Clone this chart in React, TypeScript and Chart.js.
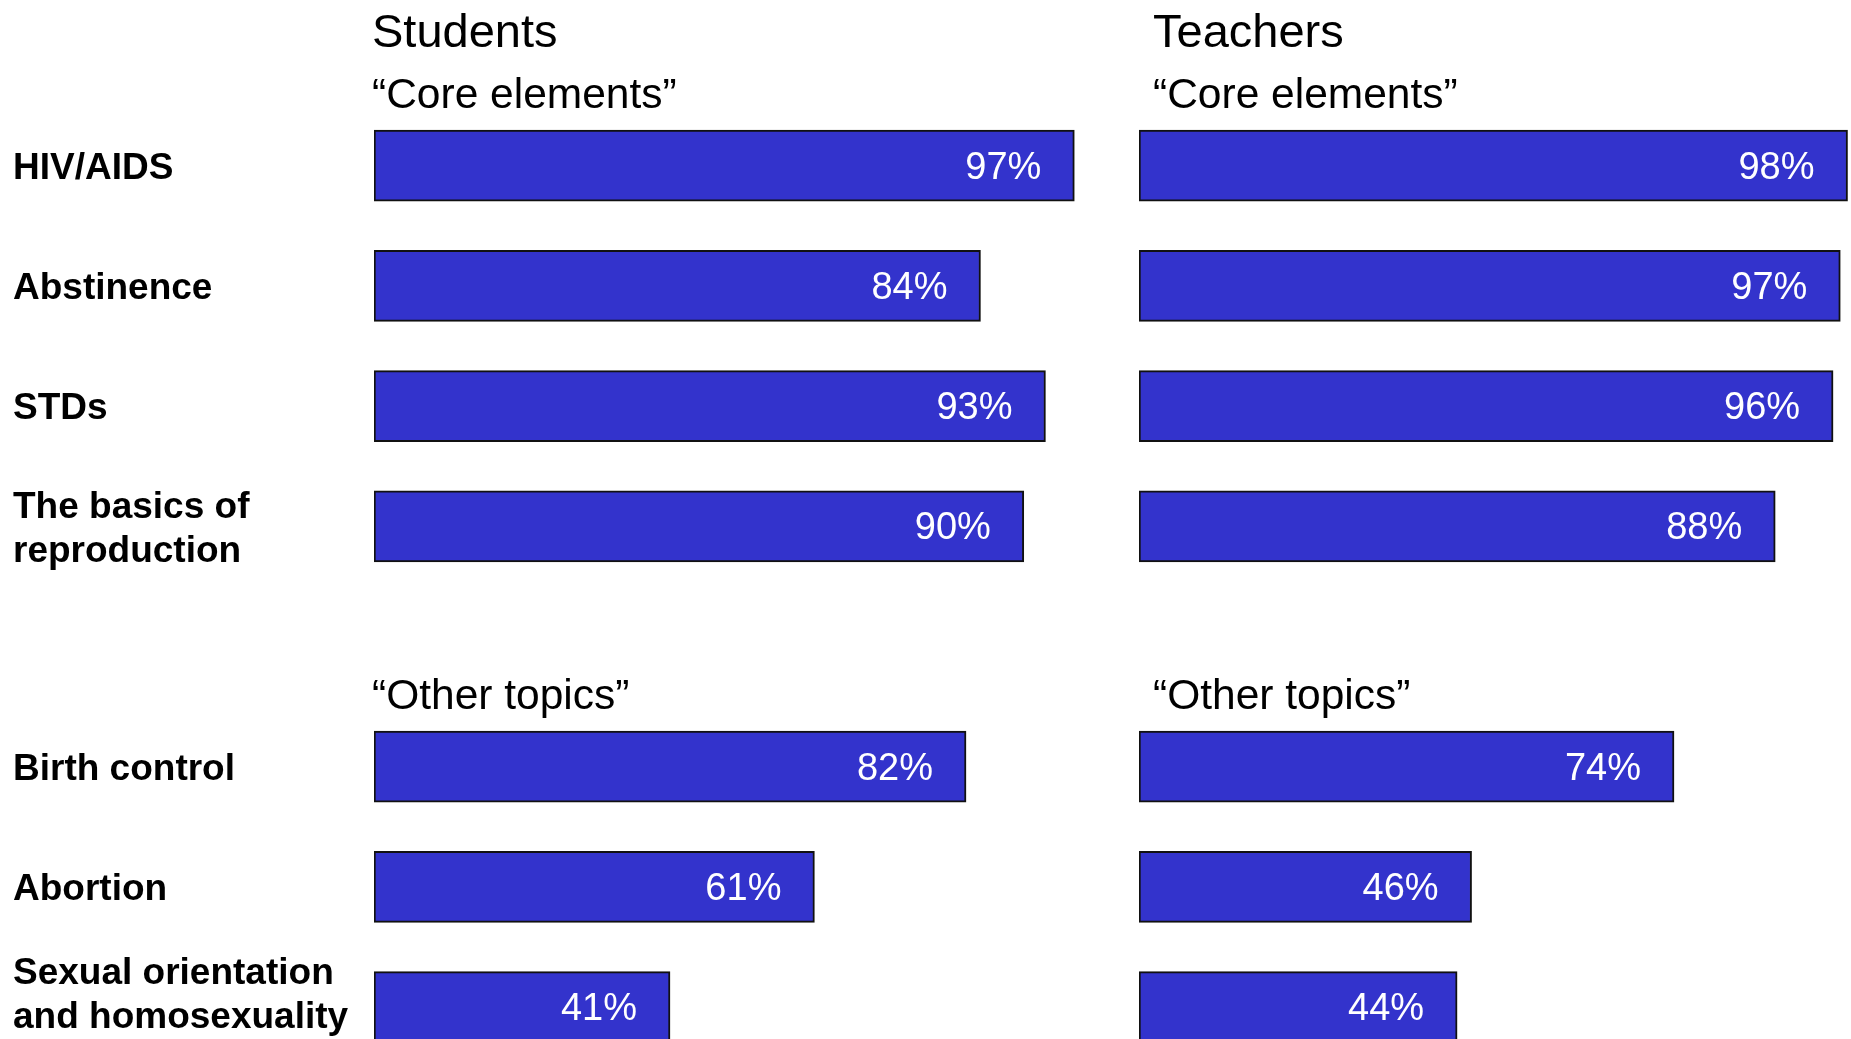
import React, { useEffect, useRef } from "react";
import { Chart, registerables } from "chart.js";

Chart.register(...registerables);

const categories: (string | string[])[] = [
  "HIV/AIDS",
  "Abstinence",
  "STDs",
  ["The basics of", "reproduction"],
  "",
  "Birth control",
  "Abortion",
  ["Sexual orientation", "and homosexuality"],
];
const studentValues: (number | null)[] = [97, 84, 93, 90, null, 82, 61, 41];
const teacherValues: (number | null)[] = [98, 97, 96, 88, null, 74, 46, 44];
const panelTitles = ["Students", "Teachers"];
const groupTitles = ["\u201CCore elements\u201D", "\u201COther topics\u201D"];
const groupStartIndex = [0, 5];

const FONT = '"Liberation Sans", Arial, Helvetica, sans-serif';
const BAR_COLOR = "#3333CC";
const BAR_THICKNESS = 71;
const CANVAS_H = 1128;
const VISIBLE_H = 1039;
const LABEL_SIZE = 37;
const LABEL_LINE = 44;

const annotatePlugin = {
  id: "annotate",
  afterDatasetsDraw(chart: any, _args: any, opts: any) {
    const ctx = chart.ctx;
    const yScale = chart.scales.y;
    const meta = chart.getDatasetMeta(0);
    const data = chart.data.datasets[0].data;
    ctx.save();
    // value labels
    ctx.fillStyle = "#ffffff";
    ctx.font = `38px ${FONT}`;
    ctx.textAlign = "right";
    ctx.textBaseline = "alphabetic";
    meta.data.forEach((bar: any, i: number) => {
      const v = data[i];
      if (v == null) return;
      ctx.fillText(`${v}%`, bar.x - 33, bar.y + 38 * 0.34);
    });
    // category labels (left panel only)
    if (opts.showLabels) {
      ctx.fillStyle = "#000000";
      ctx.textAlign = "left";
      ctx.textBaseline = "middle";
      ctx.font = `bold ${LABEL_SIZE}px ${FONT}`;
      const labels = chart.data.labels;
      labels.forEach((lab: any, i: number) => {
        const lines: string[] = Array.isArray(lab) ? lab : [lab];
        let cy = yScale.getPixelForValue(i) + 3;
        // keep the whole label block inside the visible page
        const lastCenter = cy + ((lines.length - 1) / 2) * LABEL_LINE;
        const limit = VISIBLE_H - 21;
        if (lastCenter > limit) cy -= lastCenter - limit;
        lines.forEach((ln, k) => {
          ctx.fillText(ln, opts.labelX, cy + (k - (lines.length - 1) / 2) * LABEL_LINE);
        });
      });
    }
    // headings
    ctx.fillStyle = "#000000";
    ctx.textAlign = "left";
    ctx.textBaseline = "alphabetic";
    const x = chart.chartArea.left + opts.textDx;
    ctx.font = `47px ${FONT}`;
    ctx.fillText(opts.title, x, 47);
    ctx.font = `42.5px ${FONT}`;
    groupStartIndex.forEach((idx, g) => {
      const top = yScale.getPixelForValue(idx) - BAR_THICKNESS / 2;
      ctx.fillText(groupTitles[g], x, top - 22);
    });
    ctx.restore();
  },
};

function makeConfig(
  values: (number | null)[],
  title: string,
  showLabels: boolean,
  axisWidth: number,
  textDx: number,
  padLeft: number,
  padRight: number
): any {
  return {
    type: "bar",
    data: {
      labels: categories,
      datasets: [
        {
          data: values,
          backgroundColor: BAR_COLOR,
          borderColor: "#111111",
          borderWidth: 2,
          borderSkipped: false,
          barThickness: BAR_THICKNESS,
        },
      ],
    },
    options: {
      indexAxis: "y",
      responsive: false,
      animation: false,
      layout: { padding: { left: padLeft, right: padRight, top: 105.6, bottom: CANVAS_H - 1067.2 } },
      plugins: {
        legend: { display: false },
        tooltip: { enabled: false },
        annotate: { title, textDx, showLabels, labelX: padLeft },
      },
      scales: {
        x: { type: "linear", min: 0, max: 100, display: false },
        y: {
          type: "category",
          display: showLabels,
          grid: { display: false },
          border: { display: false },
          ticks: { display: false, autoSkip: false },
          afterFit: (scale: any) => {
            scale.width = axisWidth;
          },
        },
      },
    },
    plugins: [annotatePlugin],
  };
}

export default function App() {
  const leftRef = useRef<HTMLCanvasElement>(null);
  const rightRef = useRef<HTMLCanvasElement>(null);

  useEffect(() => {
    const c1 = new Chart(
      leftRef.current as HTMLCanvasElement,
      makeConfig(studentValues, panelTitles[0], true, 361, -2, 13, 4)
    );
    const c2 = new Chart(
      rightRef.current as HTMLCanvasElement,
      makeConfig(teacherValues, panelTitles[1], false, 0, 14, 39, 0)
    );
    return () => {
      c1.destroy();
      c2.destroy();
    };
  }, []);

  return (
    <div
      style={{
        position: "absolute",
        left: 0,
        top: 0,
        width: 1851,
        height: VISIBLE_H,
        overflow: "hidden",
        background: "#ffffff",
      }}
    >
      <canvas ref={leftRef} width={1100} height={CANVAS_H} style={{ position: "absolute", left: 0, top: 0 }} />
      <canvas ref={rightRef} width={762} height={CANVAS_H} style={{ position: "absolute", left: 1100, top: 0 }} />
    </div>
  );
}
